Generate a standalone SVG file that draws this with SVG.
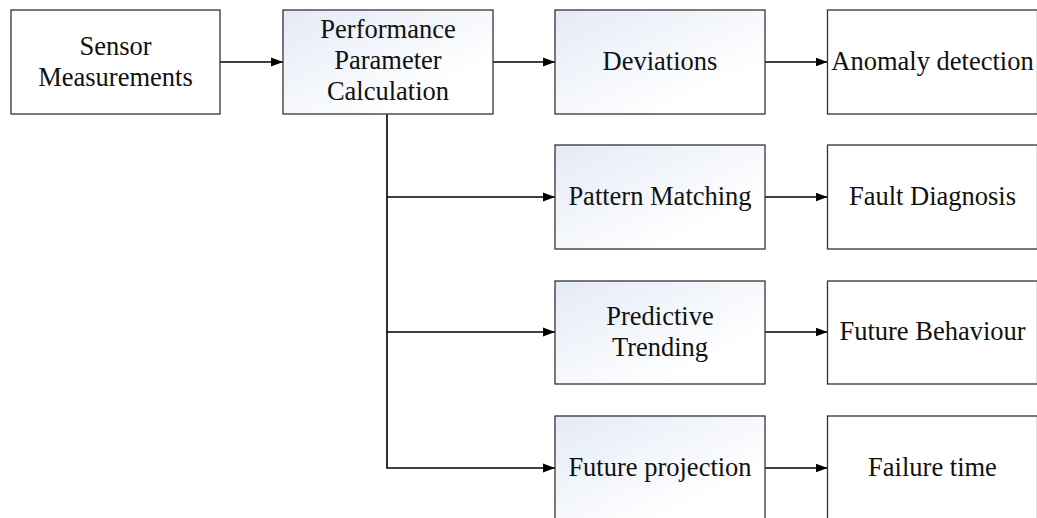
<svg xmlns="http://www.w3.org/2000/svg" width="1037" height="518" viewBox="0 0 1037 518">
  <defs>
    <linearGradient id="shade" x1="0" y1="0" x2="1" y2="1">
      <stop offset="0" stop-color="#e4eaf6"/>
      <stop offset="0.75" stop-color="#ffffff"/>
    </linearGradient>
    <marker id="arrow" viewBox="0 0 12 10" refX="12" refY="5" markerWidth="12" markerHeight="10" markerUnits="userSpaceOnUse" orient="auto">
      <path d="M0,0.5 L12,5 L0,9.5 Z" fill="#000"/>
    </marker>
  </defs>
  <style>
    .box { stroke: #333; stroke-width: 1.3; fill: #fff; }
    .box.shaded { fill: url(#shade); }
    .lbl { font-family: "Liberation Serif", "Times New Roman", serif; font-size: 26.5px; fill: #111; text-anchor: middle; }
    .link { stroke: #000; stroke-width: 1.6; fill: none; }
  </style>
  <rect width="1037" height="518" fill="#fff"/>

  <g id="connectors">
    <line class="link" x1="220" y1="62" x2="283" y2="62" marker-end="url(#arrow)"/>
    <line class="link" x1="493" y1="62" x2="555" y2="62" marker-end="url(#arrow)"/>
    <line class="link" x1="765" y1="62" x2="827.5" y2="62" marker-end="url(#arrow)"/>
    <polyline class="link" points="387,114 387,468 555,468" marker-end="url(#arrow)"/>
    <line class="link" x1="387" y1="197" x2="555" y2="197" marker-end="url(#arrow)"/>
    <line class="link" x1="387" y1="332" x2="555" y2="332" marker-end="url(#arrow)"/>
    <line class="link" x1="765" y1="197" x2="827.5" y2="197" marker-end="url(#arrow)"/>
    <line class="link" x1="765" y1="332" x2="827.5" y2="332" marker-end="url(#arrow)"/>
    <line class="link" x1="765" y1="468" x2="827.5" y2="468" marker-end="url(#arrow)"/>
  </g>

  <g id="sensor">
    <rect class="box" x="11" y="10" width="209" height="104"/>
    <text class="lbl" x="115.5" y="55">Sensor<tspan x="115.5" dy="31">Measurements</tspan></text>
  </g>
  <g id="calc">
    <rect class="box shaded" x="283" y="10" width="210" height="104"/>
    <text class="lbl" x="388" y="38">Performance<tspan x="388" dy="31">Parameter</tspan><tspan x="388" dy="31">Calculation</tspan></text>
  </g>
  <g id="deviations">
    <rect class="box shaded" x="555" y="10" width="210" height="104"/>
    <text class="lbl" x="660" y="70">Deviations</text>
  </g>
  <g id="anomaly">
    <rect class="box" x="827.5" y="10" width="210" height="104"/>
    <text class="lbl" x="932.5" y="70">Anomaly detection</text>
  </g>
  <g id="pattern">
    <rect class="box shaded" x="555" y="145" width="210" height="104"/>
    <text class="lbl" x="660" y="205">Pattern Matching</text>
  </g>
  <g id="fault">
    <rect class="box" x="827.5" y="145" width="210" height="104"/>
    <text class="lbl" x="932.5" y="205">Fault Diagnosis</text>
  </g>
  <g id="trending">
    <rect class="box shaded" x="555" y="281" width="210" height="103"/>
    <text class="lbl" x="660" y="325">Predictive<tspan x="660" dy="31">Trending</tspan></text>
  </g>
  <g id="behaviour">
    <rect class="box" x="827.5" y="281" width="210" height="103"/>
    <text class="lbl" x="932.5" y="340">Future Behaviour</text>
  </g>
  <g id="projection">
    <rect class="box shaded" x="555" y="416" width="210" height="104"/>
    <text class="lbl" x="660" y="476">Future projection</text>
  </g>
  <g id="failure">
    <rect class="box" x="827.5" y="416" width="210" height="104"/>
    <text class="lbl" x="932.5" y="476">Failure time</text>
  </g>
</svg>
